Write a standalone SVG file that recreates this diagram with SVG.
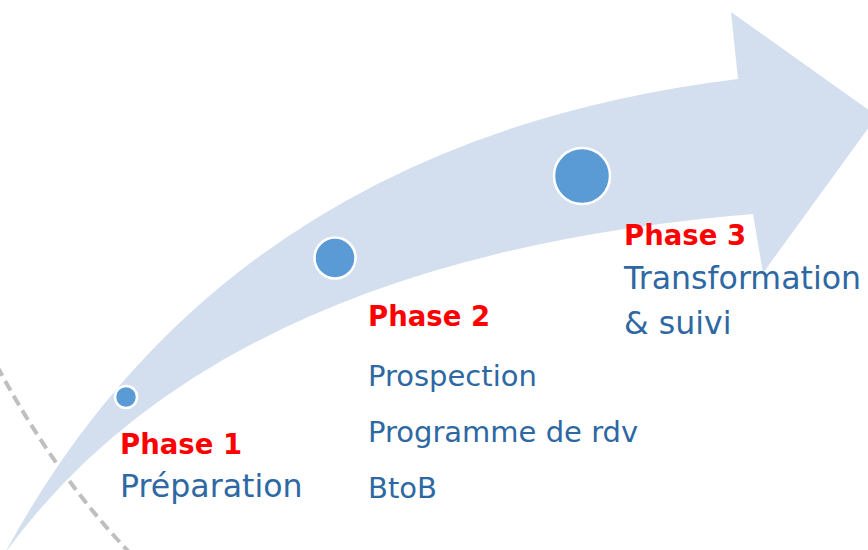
<svg xmlns="http://www.w3.org/2000/svg" width="868" height="550" viewBox="0 0 868 550">
<style>
.arrow{fill:#D3DEEF;stroke:none}
.dash{fill:none;stroke:#BFBFBF;stroke-width:4;stroke-dasharray:11 6}
.dot{fill:#5B9BD5;stroke:#FFFFFF;stroke-width:2.5}
.title{font-family:"DejaVu Sans",sans-serif;font-weight:bold;font-size:27.5px;fill:#FF0000}
.body{font-family:"DejaVu Sans",sans-serif;font-size:29px;fill:#2E68A3}
.big{font-size:31.6px}
</style>
<rect width="868" height="550" fill="#FFFFFF"/>
<g id="connectors">
<path class="dash" d="M-3,366 Q56,476 130,553"/>
<path class="arrow" d="M5,553 Q227.5,141.5 738,79 L731,12 L877,116 L763,273 L753,214 Q220,258 5,553 Z"/>
</g>
<g id="phase1">
<circle class="dot" cx="126" cy="397" r="11"/>
<text class="title" x="120" y="454">Phase 1</text>
<text class="body big" x="120" y="497">Préparation</text>
</g>
<g id="phase2">
<circle class="dot" cx="335" cy="258" r="20.5"/>
<text class="title" x="368" y="326">Phase 2</text>
<text class="body" x="368" y="386">Prospection</text>
<text class="body" x="368" y="442">Programme de rdv</text>
<text class="body" x="368" y="498">BtoB</text>
</g>
<g id="phase3">
<circle class="dot" cx="582" cy="176" r="28"/>
<text class="title" x="624" y="245">Phase 3</text>
<text class="body big" x="624" y="289">Transformation</text>
<text class="body big" x="624" y="334">&amp; suivi</text>
</g>
</svg>
